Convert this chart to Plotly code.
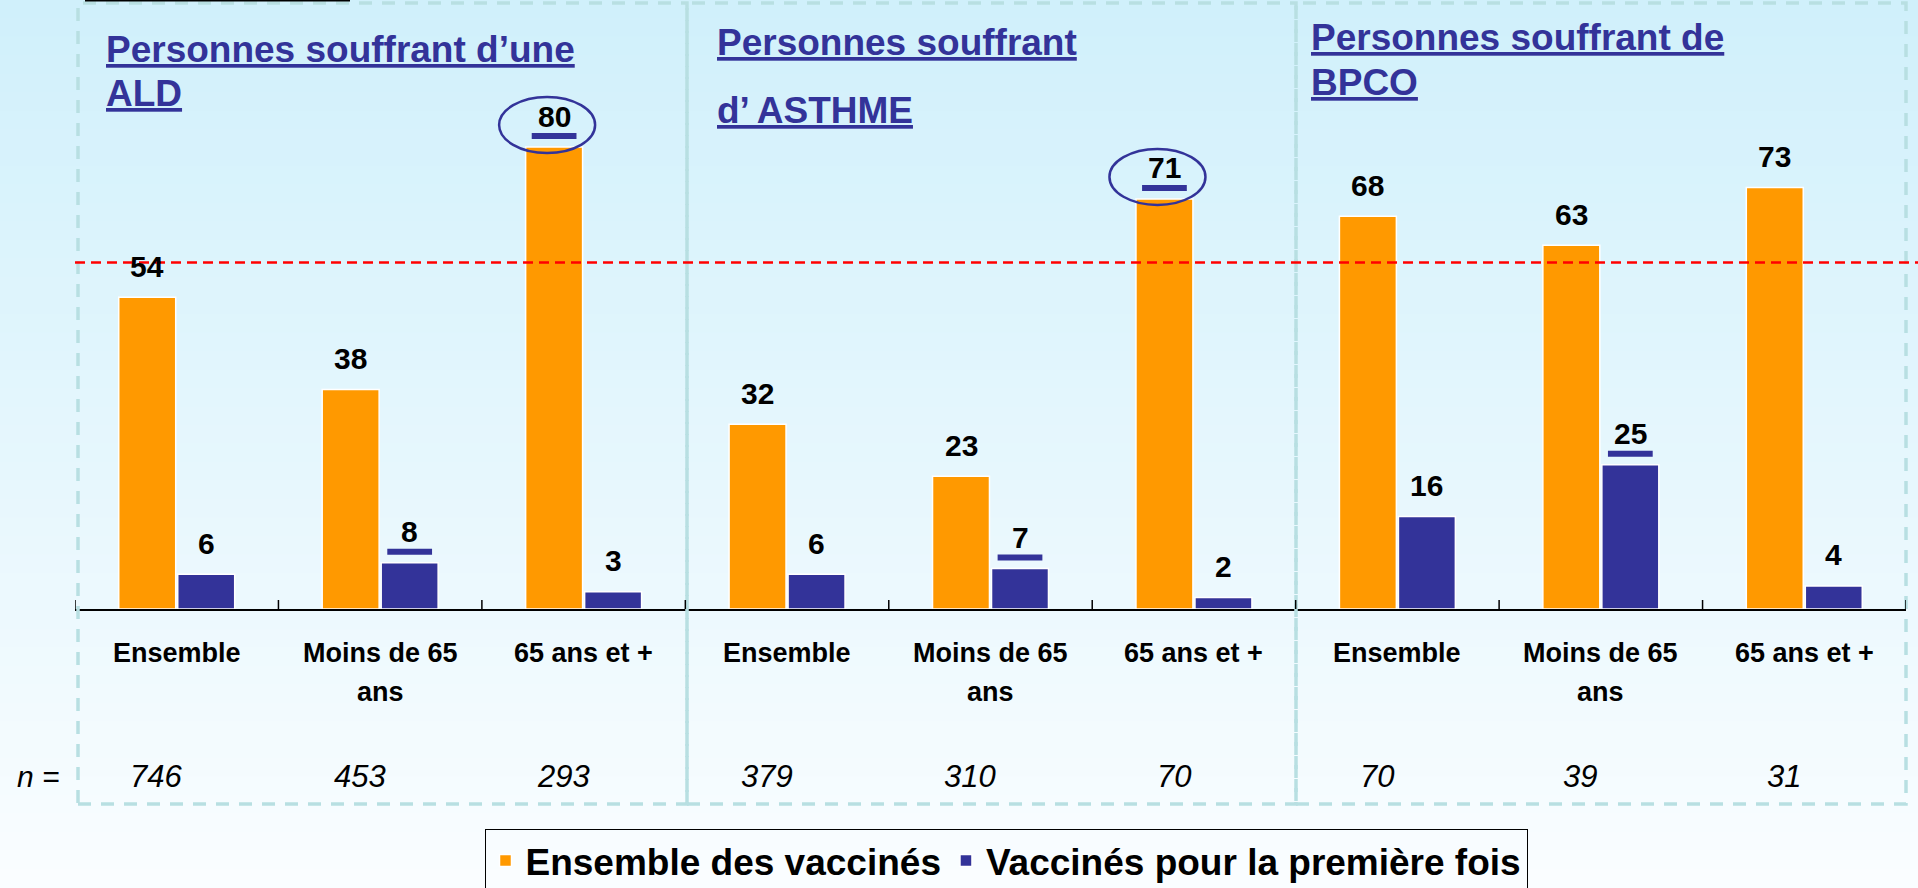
import plotly.graph_objects as go

# ---------------- data ----------------
panel_titles = [
    ["Personnes souffrant d\u2019une", "ALD"],
    ["Personnes souffrant", "d\u2019 ASTHME"],
    ["Personnes souffrant de", "BPCO"],
]
categories = ["Ensemble", "Moins de 65<br>ans", "65 ans et +",
              "Ensemble", "Moins de 65<br>ans", "65 ans et +",
              "Ensemble", "Moins de 65<br>ans", "65 ans et +"]
ensemble_vals = [54, 38, 80, 32, 23, 71, 68, 63, 73]
premiere_vals = [6, 8, 3, 6, 7, 2, 16, 25, 4]
n_values = [746, 453, 293, 379, 310, 70, 70, 39, 31]
ensemble_sig = [False, False, True, False, False, True, False, False, False]
premiere_sig = [False, True, False, False, True, False, False, True, False]
ensemble_circled = [False, False, True, False, False, True, False, False, False]
reference_value = 60
series_names = ["Ensemble des vaccinés", "Vaccinés pour la première fois"]

# ---------------- styles ----------------
ORANGE = "#FF9900"
BLUE = "#333399"
FONT = "Liberation Sans, Arial, sans-serif"
W_FIG, H_FIG = 1918, 888
L, R, T, B = 75, 1906, 20, 609   # plot area in pixels
PW, PH = R - L, B - T

def px_x(p):
    return (p - L) / PW

def px_y(p):
    return (B - p) / PH

idx = list(range(len(categories)))
BAR_W = 0.28
OFF_O = -0.285
OFF_B = 0.005
cx_o = [i + OFF_O + BAR_W / 2 for i in idx]
cx_b = [i + OFF_B + BAR_W / 2 for i in idx]

fig = go.Figure()
fig.add_trace(go.Bar(x=idx, y=ensemble_vals, name="<b>%s</b>" % series_names[0], width=BAR_W, offset=OFF_O,
                     marker=dict(color=ORANGE, line=dict(color="white", width=1.5))))
fig.add_trace(go.Bar(x=idx, y=premiere_vals, name="<b>%s</b>" % series_names[1], width=BAR_W, offset=OFF_B,
                     marker=dict(color=BLUE, line=dict(color="white", width=1.5))))

shapes = []
annotations = []

# background gradient (bands)
top_c = (208, 240, 251)
bot_c = (250, 253, 255)
nb = 48
for k in range(nb):
    t0 = k / nb
    t1 = (k + 1) / nb
    tm = (t0 + t1) / 2
    c = tuple(int(round(top_c[j] + (bot_c[j] - top_c[j]) * tm)) for j in range(3))
    shapes.append(dict(type="rect", xref="paper", yref="paper", layer="below",
                       x0=px_x(0), x1=px_x(W_FIG),
                       y0=px_y(t0 * H_FIG - 0.5), y1=px_y(t1 * H_FIG + 0.5),
                       fillcolor="rgb(%d,%d,%d)" % c, line=dict(width=0)))

# panel dashed frames
panel_edges = [78, 687, 1296, 1906]
for p in range(3):
    shapes.append(dict(type="rect", xref="paper", yref="paper", layer="above",
                       x0=px_x(panel_edges[p]), x1=px_x(panel_edges[p + 1]),
                       y0=px_y(804), y1=px_y(3),
                       line=dict(color="#b8dfe2", width=3.5, dash="13px,10px")))

# black stub at top-left
shapes.append(dict(type="line", xref="paper", yref="paper",
                   x0=px_x(85), x1=px_x(350), y0=px_y(0.5), y1=px_y(0.5),
                   line=dict(color="black", width=2)))

# axis ticks crossing the axis
for b in [i - 0.5 for i in idx] + [len(idx) - 0.5]:
    shapes.append(dict(type="line", xref="x", yref="y", ysizemode="pixel", yanchor=0,
                       x0=b, x1=b, y0=-10, y1=9, line=dict(color="black", width=1.5)))

# reference dashed line
shapes.append(dict(type="line", xref="paper", yref="y", x0=0, x1=px_x(W_FIG),
                   y0=reference_value, y1=reference_value, layer="above",
                   line=dict(color="#FF0000", width=2.5, dash="10px,6px")))

# significance underlines + circles
UL_HALF = 0.11
for i in idx:
    if ensemble_sig[i]:
        shapes.append(dict(type="line", xref="x", yref="y", ysizemode="pixel",
                           yanchor=ensemble_vals[i], x0=cx_o[i] - UL_HALF, x1=cx_o[i] + UL_HALF,
                           y0=11, y1=11, line=dict(color=BLUE, width=6)))
    if premiere_sig[i]:
        shapes.append(dict(type="line", xref="x", yref="y", ysizemode="pixel",
                           yanchor=premiere_vals[i], x0=cx_b[i] - UL_HALF, x1=cx_b[i] + UL_HALF,
                           y0=11, y1=11, line=dict(color=BLUE, width=6)))
    if ensemble_circled[i]:
        shapes.append(dict(type="circle", xref="x", yref="y", xsizemode="pixel", ysizemode="pixel",
                           xanchor=cx_o[i], yanchor=ensemble_vals[i],
                           x0=-55, x1=41, y0=-6, y1=50,
                           line=dict(color=BLUE, width=2.5)))

# value labels
for i in idx:
    annotations.append(dict(x=cx_o[i], y=ensemble_vals[i], xref="x", yref="y",
                            text="<b>%d</b>" % ensemble_vals[i], showarrow=False,
                            yanchor="middle", yshift=31,
                            font=dict(family=FONT, size=30, color="black")))
    annotations.append(dict(x=cx_b[i], y=premiere_vals[i], xref="x", yref="y",
                            text="<b>%d</b>" % premiere_vals[i], showarrow=False,
                            yanchor="middle", yshift=31,
                            font=dict(family=FONT, size=30, color="black")))

# category labels
for i in idx:
    for li, line in enumerate(categories[i].split("<br>")):
        annotations.append(dict(x=i, y=px_y(653 + 39 * li), xref="x", yref="paper",
                                text="<b>%s</b>" % line, showarrow=False,
                                xanchor="center", yanchor="middle",
                                font=dict(family=FONT, size=27, color="black")))

# n values
annotations.append(dict(x=px_x(38), y=px_y(776), xref="paper", yref="paper",
                        text="<i>n =</i>", showarrow=False, xanchor="center", yanchor="middle",
                        font=dict(family=FONT, size=30, color="black")))
for i in idx:
    annotations.append(dict(x=i - 0.1, y=px_y(776), xref="x", yref="paper",
                            text="<i>%d</i>" % n_values[i], showarrow=False,
                            xanchor="center", yanchor="middle",
                            font=dict(family=FONT, size=31, color="black")))

# panel titles
title_pos = [(104, [49, 94]), (715, [42, 110]), (1309, [37, 82])]
for p in range(3):
    xp, ys = title_pos[p]
    for li, line in enumerate(panel_titles[p]):
        annotations.append(dict(x=px_x(xp), y=px_y(ys[li]), xref="paper", yref="paper",
                                text="<b><u>%s</u></b>" % line, showarrow=False,
                                xanchor="left", yanchor="middle",
                                font=dict(family=FONT, size=37, color=BLUE)))

fig.update_layout(
    width=W_FIG, height=H_FIG,
    margin=dict(l=L, r=W_FIG - R, t=T, b=H_FIG - B, pad=0, autoexpand=False),
    paper_bgcolor="rgb(235,248,253)",
    plot_bgcolor="rgba(0,0,0,0)",
    barmode="overlay",
    showlegend=True,
    legend=dict(orientation="h", x=px_x(1006), xanchor="center", y=px_y(829), yanchor="top",
                font=dict(family=FONT, size=37, color="black"),
                bordercolor="black", borderwidth=1, bgcolor="rgba(255,255,255,0)",
                itemwidth=30, tracegroupgap=0, traceorder="normal"),
    xaxis=dict(range=[-0.5, len(idx) - 0.5], showgrid=False, zeroline=False,
               showline=True, linecolor="black", linewidth=2, ticks="", showticklabels=False),
    yaxis=dict(range=[0, PH / 5.775], showgrid=False, zeroline=False, showline=False,
               showticklabels=False, ticks=""),
    shapes=shapes,
    annotations=annotations,
)

fig.write_html("out.html", config={"displayModeBar": False},
               post_script="document.body.style.margin='0';document.body.style.overflow='hidden';")
